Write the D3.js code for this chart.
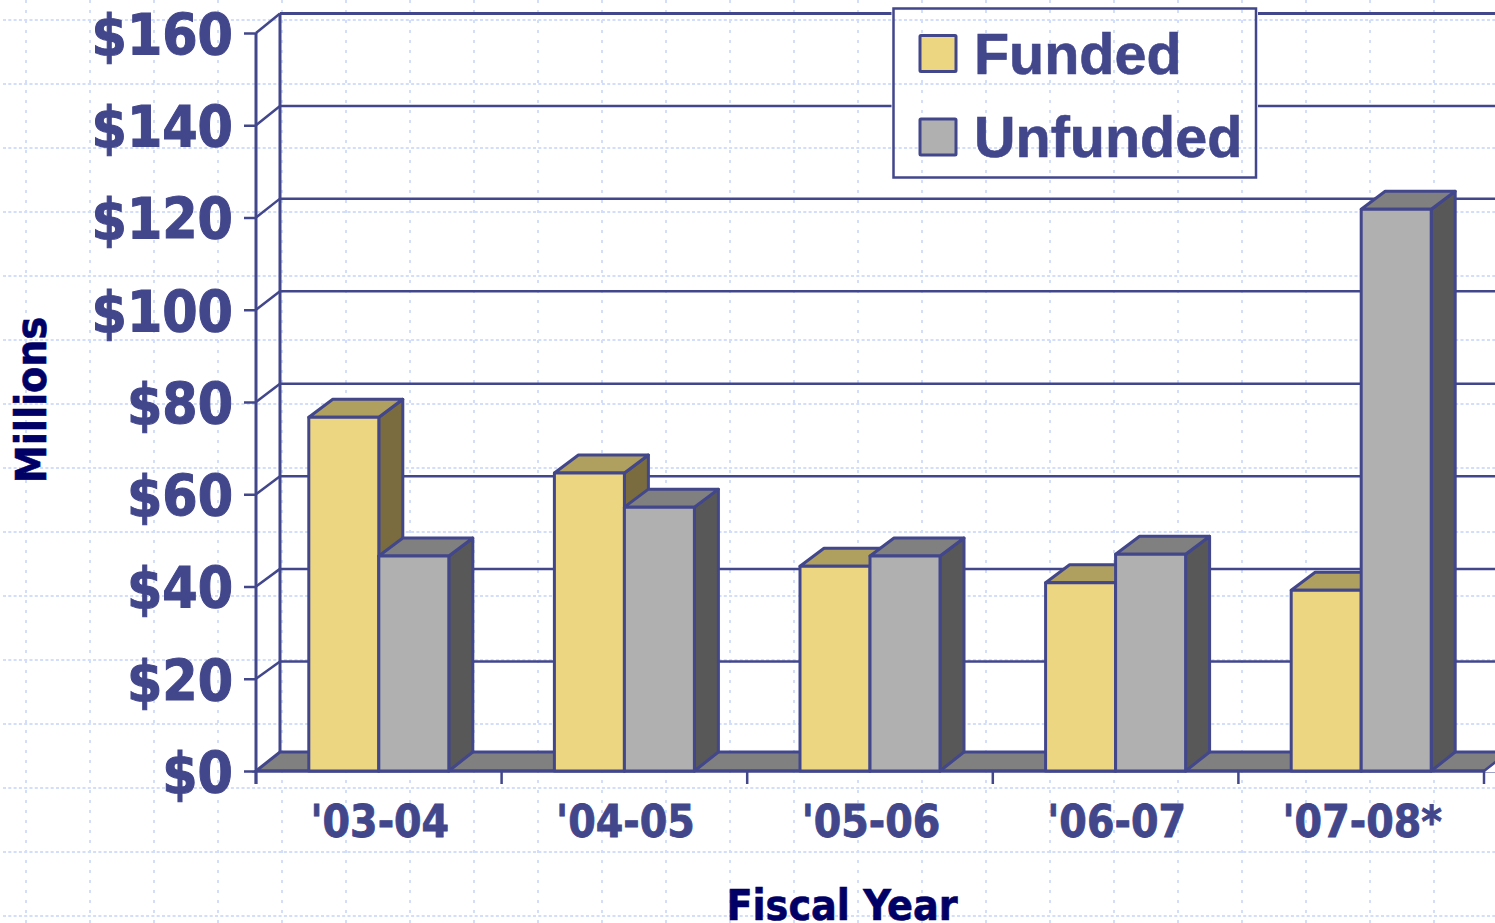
<!DOCTYPE html>
<html>
<head>
<meta charset="utf-8">
<script src="https://cdn.jsdelivr.net/npm/d3@7"></script>
<style>
    html, body { margin: 0; padding: 0; background: #fff; overflow: hidden; }
    svg { display: block; }
    text { font-family: "DejaVu Sans"; font-weight: bold; font-stretch: condensed; }
</style>
</head>
<body>
<div id="wrapper"></div>
<script>
// DATA
const categories = ["'03-04", "'04-05", "'05-06", "'06-07", "'07-08*"]
const funded = [76.7, 64.6, 44.4, 40.8, 39.2]
const unfunded = [46.6, 57.2, 46.6, 47.0, 121.8]
const yTicks = [0, 20, 40, 60, 80, 100, 120, 140, 160]
const seriesNames = ["Funded", "Unfunded"]

function drawChart() {
    const width = 1495
    const height = 923
    const ink = "#42468b"
    const navy = "#000066"
    const dotColor = "#d3defb"

    // depth of the fake 3d box, bars are a bit shallower than the floor
    const depthX = 24
    const depthY = 19
    const barDepthY = 18

    const colors = {
        Funded: { front: "#ecd682", top: "#b0a060", side: "#7a6c3e" },
        Unfunded: { front: "#b0b0b0", top: "#808080", side: "#585858" }
    }

    const wrapper = d3.select('#wrapper')
        .append('svg')
        .attr('width', width)
        .attr('height', height)

    // SCALES
    const y = d3.scaleLinear().domain([0, 160]).range([771, 33])
    const wallY = d3.scaleLinear().domain([0, 160]).range([754, 13.5])
    const x = d3.scaleBand().domain(categories).range([256, 1484])
    const barWidth = 70

    // dotted slide background, also reused inside the legend
    function dots(g) {
        g.selectAll('.dot-h')
            .data(d3.range(20, height, 64))
            .enter().append('line')
            .attr('x1', 3).attr('x2', width)
            .attr('y1', d => d).attr('y2', d => d)
            .attr('stroke', dotColor).attr('stroke-width', 2)
            .attr('stroke-dasharray', '3 2.3')
        g.selectAll('.dot-v')
            .data(d3.range(26, width, 64))
            .enter().append('line')
            .attr('y1', 0).attr('y2', height)
            .attr('x1', d => d).attr('x2', d => d)
            .attr('stroke', dotColor).attr('stroke-width', 2)
            .attr('stroke-dasharray', '3 7')
    }
    wrapper.append('g').call(dots)

    // BACK WALL GRIDLINES
    const walls = wrapper.append('g')
    walls.selectAll('.grid')
        .data(yTicks.filter(d => d > 0))
        .enter().append('line')
        .attr('x1', 280).attr('x2', width)
        .attr('y1', d => wallY(d)).attr('y2', d => wallY(d))
        .attr('stroke', ink)
        .attr('stroke-width', d => d == 160 ? 3 : 2.5)

    // side wall diagonals
    walls.selectAll('.diag')
        .data(yTicks.filter(d => d > 0))
        .enter().append('line')
        .attr('x1', 256).attr('x2', 256 + depthX)
        .attr('y1', d => y(d)).attr('y2', d => wallY(d))
        .attr('stroke', ink).attr('stroke-width', 2.5)

    walls.append('line')
        .attr('x1', 280).attr('x2', 280)
        .attr('y1', wallY(160)).attr('y2', y(0) - depthY)
        .attr('stroke', ink).attr('stroke-width', 3)

    // floor
    walls.append('path')
        .attr('d', `M${x.range()[0]},${y(0)} l${depthX},${-depthY} H${width + 40} V${y(0)} Z`)
        .attr('fill', '#808080')
        .attr('stroke', ink).attr('stroke-width', 3)

    // right end of the floor
    walls.append('path')
        .attr('d', `M${x.range()[1]},${y(0) + 1} l${depthX},${-depthY} V${y(0) + 1} Z`)
        .attr('fill', '#fff')

    walls.append('line')
        .attr('x1', x.range()[1]).attr('x2', x.range()[1] + depthX)
        .attr('y1', y(0)).attr('y2', y(0) - depthY)
        .attr('stroke', ink).attr('stroke-width', 2.5)

    // AXES
    const yAxis = d3.axisLeft(y)
        .tickValues(yTicks)
        .tickSize(12)
        .tickPadding(11)
        .tickFormat(d => "$" + d)

    const yAxisGroup = wrapper.append('g')
        .attr('transform', 'translate(256,0)')
        .call(yAxis)
    yAxisGroup.select('.domain')
        .attr('d', `M0,${y(160)} V784`)
        .attr('stroke', ink).attr('stroke-width', 3)
    yAxisGroup.selectAll('.tick line').attr('stroke', ink).attr('stroke-width', 2.5)
    yAxisGroup.selectAll('.tick text')
        .attr('fill', ink)
        .attr('stroke', ink)
        .attr('stroke-width', 1)
        .attr('dy', '0.38em')
        .style('font-size', '56.5px')
        .style('font-family', '"DejaVu Sans"')
        .style('font-weight', 'bold')

    const xAxis = d3.axisBottom(x).tickSize(0).tickPadding(35)
    const xAxisGroup = wrapper.append('g')
        .attr('transform', `translate(0,${y(0)})`)
        .call(xAxis)
    xAxisGroup.select('.domain')
        .attr('d', `M${x.range()[0]},0 H${x.range()[1]}`)
        .attr('stroke', ink).attr('stroke-width', 3)
    xAxisGroup.selectAll('.tick text')
        .attr('fill', ink)
        .attr('stroke', ink)
        .attr('stroke-width', 0.8)
        .attr('dx', 1)
        .style('font-size', '44px')
        .style('font-family', '"DejaVu Sans"')
        .style('font-weight', 'bold')
    xAxisGroup.selectAll('.edge')
        .data(categories.map(c => x(c)).concat(x.range()[1]))
        .enter().append('line')
        .attr('x1', d => d).attr('x2', d => d)
        .attr('y1', 0).attr('y2', 13)
        .attr('stroke', ink).attr('stroke-width', 2.5)

    // BARS
    const bars = wrapper.append('g')
        .attr('stroke', ink)
        .attr('stroke-width', 3)
        .attr('stroke-linejoin', 'round')

    categories.forEach((cat, i) => {
        const center = x(cat) + x.bandwidth() / 2
        const values = [funded[i], unfunded[i]]

        values.forEach((value, j) => {
            const name = seriesNames[j]
            const left = center - barWidth + j * barWidth
            const right = left + barWidth
            const top = y(value)
            const base = y(0)

            const bar = bars.append('g').attr('class', 'bar')
            bar.append('path')
                .attr('d', `M${right},${base} l${depthX},${-depthY} V${top - barDepthY} l${-depthX},${barDepthY} Z`)
                .attr('fill', colors[name].side)
            bar.append('path')
                .attr('d', `M${left},${top} l${depthX},${-barDepthY} H${right + depthX} l${-depthX},${barDepthY} Z`)
                .attr('fill', colors[name].top)
            bar.append('rect')
                .attr('x', left).attr('y', top)
                .attr('width', barWidth).attr('height', base - top)
                .attr('fill', colors[name].front)
        })
    })

    // LEGEND
    const legendBox = { x: 893.5, y: 8.5, w: 362.5, h: 169 }
    wrapper.append('clipPath').attr('id', 'legend-clip')
        .append('rect')
        .attr('x', legendBox.x).attr('y', legendBox.y)
        .attr('width', legendBox.w).attr('height', legendBox.h)

    const legend = wrapper.append('g')
    legend.append('rect')
        .attr('x', legendBox.x - 2).attr('y', legendBox.y - 2)
        .attr('width', legendBox.w + 4).attr('height', legendBox.h + 4)
        .attr('fill', '#fff')
    legend.append('g').attr('clip-path', 'url(#legend-clip)').call(dots)
    legend.append('rect')
        .attr('x', legendBox.x).attr('y', legendBox.y)
        .attr('width', legendBox.w).attr('height', legendBox.h)
        .attr('fill', 'none')
        .attr('stroke', ink).attr('stroke-width', 2.5)

    const legendY = d3.scalePoint().domain(seriesNames).range([53.5, 137])

    seriesNames.forEach(name => {
        legend.append('rect')
            .attr('x', 920).attr('y', legendY(name) - 18)
            .attr('width', 36).attr('height', 36)
            .attr('rx', 1)
            .attr('fill', colors[name].front)
            .attr('stroke', ink).attr('stroke-width', 3)
        legend.append('text')
            .attr('x', 974).attr('y', legendY(name) + 20)
            .style('font-family', '"Liberation Sans"')
            .style('font-stretch', 'normal')
            .style('font-size', '57.5px')
            .attr('fill', ink)
            .attr('stroke', ink)
            .attr('stroke-width', 0.6)
            .text(name)
    })

    // AXIS TITLES
    wrapper.append('text')
        .attr('transform', 'translate(46,400) rotate(-90)')
        .attr('text-anchor', 'middle')
        .style('font-size', '42.5px')
        .attr('fill', navy)
        .attr('stroke', navy)
        .attr('stroke-width', 0.6)
        .text('Millions')

    wrapper.append('text')
        .attr('x', 842).attr('y', 920)
        .attr('text-anchor', 'middle')
        .style('font-size', '42.5px')
        .attr('fill', navy)
        .attr('stroke', navy)
        .attr('stroke-width', 0.6)
        .text('Fiscal Year')
}
drawChart()
</script>
</body>
</html>
